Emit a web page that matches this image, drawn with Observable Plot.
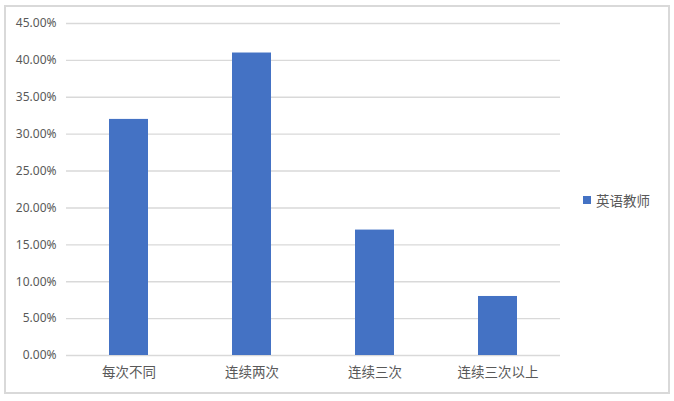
<!DOCTYPE html>
<html>
<head>
<meta charset="utf-8">
<script src="https://cdn.jsdelivr.net/npm/d3@7"></script>
<script src="https://cdn.jsdelivr.net/npm/@observablehq/plot@0.6"></script>
<style>
  html, body { margin: 0; padding: 0; background: #fff; }
  #wrap { position: relative; width: 674px; height: 401px; overflow: hidden; }
  #frame { position: absolute; left: 4px; top: 5px; width: 662px; height: 385px; border: 2px solid #d9d9d9; }
  #chart { position: absolute; left: 0; top: 0; }
  #legend { position: absolute; left: 583px; top: 190px; font: 13.5px "Noto Sans CJK SC", sans-serif; color: #595959; display: flex; align-items: center; }
  #legend .sw { width: 8px; height: 8px; background: #4472C4; margin-right: 5px; }
</style>
</head>
<body>
<div id="wrap">
  <div id="frame"></div>
  <div id="chart"></div>
  <div id="legend"><span class="sw"></span><span id="legendText"></span></div>
</div>
<script>
const categories = ["每次不同", "连续两次", "连续三次", "连续三次以上"];
const values = [0.32, 0.41, 0.17, 0.08];
const seriesName = "英语教师";
const yTicks = [0, 0.05, 0.10, 0.15, 0.20, 0.25, 0.30, 0.35, 0.40, 0.45];

const data = categories.map((c, i) => ({category: c, value: values[i]}));
document.getElementById("legendText").textContent = seriesName;

const chart = Plot.plot({
  width: 674,
  height: 401,
  marginTop: 23,
  marginBottom: 46,
  marginLeft: 66,
  marginRight: 114,
  style: {background: "transparent", color: "#595959", fontFamily: "'Noto Sans CJK SC', 'Noto Sans', sans-serif"},
  x: {domain: categories, paddingInner: 0.684, paddingOuter: 0.342, label: null},
  y: {domain: [0, 0.45], ticks: yTicks, label: null},
  marks: [
    Plot.gridY(yTicks, {stroke: "#d9d9d9", strokeOpacity: 1, strokeWidth: 1.4}),
    Plot.barY(data, {x: "category", y: "value", fill: "#4472C4"}),
    Plot.axisY(yTicks, {tickSize: 0, tickPadding: 10, tickFormat: d3.format(".2%"), fontSize: 12, fontFamily: "'Noto Sans', sans-serif", fill: "#595959"}),
    Plot.axisX({tickSize: 0, tickPadding: 12, fontSize: 13.5, fill: "#595959"})
  ]
});
document.getElementById("chart").appendChild(chart);
</script>
</body>
</html>
